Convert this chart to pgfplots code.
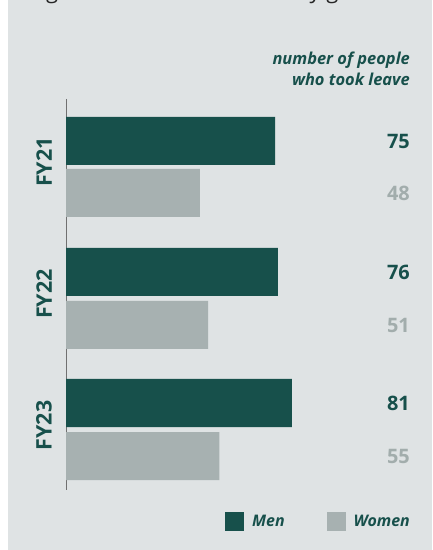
\documentclass[border=0pt]{standalone}
\usepackage{fontspec}
\setmainfont{Open Sans}
\IfFontExistsTF{Open Sans SemiBold}{\newfontfamily\sbfont{Open Sans SemiBold}}{\newcommand\sbfont{\bfseries}}
\usepackage{pgfplots}
\usepackage{pgfplotstable}
\pgfplotsset{compat=1.18}
\definecolor{bg}{HTML}{DFE3E4}
\definecolor{men}{HTML}{17504B}
\definecolor{women}{HTML}{A7B1B1}
\definecolor{womentxt}{HTML}{A2ADAC}
\definecolor{axisgray}{HTML}{707070}

\pgfplotstableread{
pos val lx
141 75 123.43
272 76 123.43
403 81 123.43
}\mendata
\pgfplotstableread{
pos val lx
193 48 123.43
325 51 123.43
456 55 123.43
}\womendata

\begin{document}
\begin{tikzpicture}[x=1bp,y=1bp]
\useasboundingbox (0,0) rectangle (432,550);
\clip (0,0) rectangle (432,550);
\fill[white] (0,0) rectangle (432,550);
\fill[bg] (8,0) rectangle (432,550);
\node[anchor=base west, inner sep=0pt, font=\fontsize{22}{26}\selectfont, text=black!85] at (20,551.5) {Organisational leave taken by gender};
\node[anchor=north east, align=right, inner sep=0pt, font=\fontsize{16.5}{21}\selectfont\sbfont\itshape, text=men] at (410,498) {number of people\\who took leave};
\begin{axis}[
  at={(66bp,60bp)}, anchor=south west,
  scale only axis, width=344bp, height=391bp,
  xmin=0, xmax=123.43, ymin=99, ymax=490, y dir=reverse,
  axis x line=none, axis y line*=left,
  y axis line style={draw=axisgray, line width=0.9bp, -},
  ytick={162,294,425.5}, yticklabels={FY21,FY22,FY23},
  major tick length=0pt,
  yticklabel style={font=\fontsize{21.5}{25}\selectfont\bfseries, text=men, rotate=90, anchor=south, inner sep=0pt, yshift=14bp},
  /pgf/number format/assume math mode=true,
  clip=false,
  legend style={at={(1,0)}, anchor=east, xshift=2bp, yshift=-31.5bp, draw=none, fill=none, inner sep=0pt,
    font=\fontsize{16}{19}\selectfont\sbfont\itshape, text=men,
    /tikz/every odd column/.append style={column sep=6bp},
    /tikz/every even column/.append style={column sep=40bp}},
  legend columns=2,
  legend image code/.code={\fill[#1, draw=none] (0bp,-9.5bp) rectangle (19bp,9.5bp);},
]
\addplot[xbar, bar width=48, fill=men, draw=none, bar shift=0pt] table[x=val,y=pos]{\mendata};
\addplot[xbar, bar width=48, fill=women, draw=none, bar shift=0pt] table[x=val,y=pos]{\womendata};
\addplot[forget plot, draw=none, mark=none, nodes near coords, point meta=explicit,
  every node near coord/.style={anchor=east, inner sep=0pt, font=\fontsize{20}{24}\selectfont\sbfont, text=men}]
  table[x=lx,y=pos,meta=val]{\mendata};
\addplot[forget plot, draw=none, mark=none, nodes near coords, point meta=explicit,
  every node near coord/.style={anchor=east, inner sep=0pt, font=\fontsize{20}{24}\selectfont\sbfont, text=womentxt}]
  table[x=lx,y=pos,meta=val]{\womendata};
\legend{Men,Women}
\end{axis}
\end{tikzpicture}
\end{document}
